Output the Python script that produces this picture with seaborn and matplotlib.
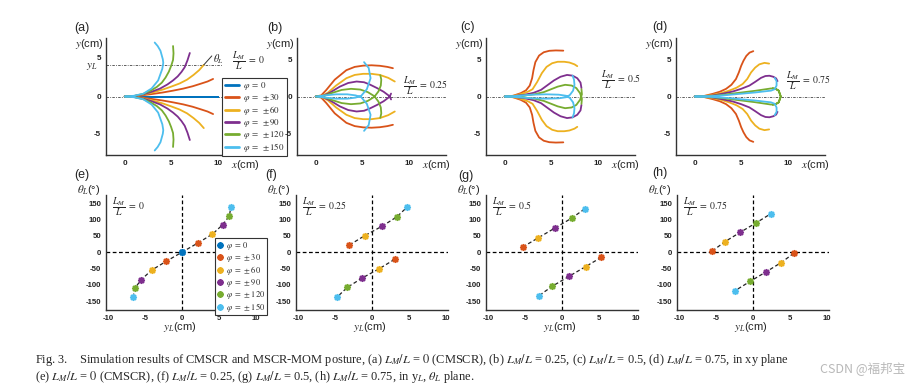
import matplotlib
matplotlib.use("Agg")
import matplotlib.pyplot as plt
import matplotlib.transforms as mtransforms
from matplotlib.lines import Line2D
import numpy as np
import seaborn as sns

# colours of the bending angles (MATLAB default order)
colors = ['#0072BD', '#D95319', '#EDB120', '#7E2F8E', '#77AC30', '#4DBEEE']
phi_labels = [r'$\varphi\;=\;0$', r'$\varphi\;=\;\pm30$', r'$\varphi\;=\;\pm60$',
              r'$\varphi\;=\;\pm90$', r'$\varphi\;=\;\pm120$', r'$\varphi\;=\;\pm150$']
ratio_labels = ['0', '0.25', '0.5', '0.75']

# ---- xy plane: upper half of each posture, the lower half is its mirror ----
# (a) L_M/L = 0, phi = 0, 30, 60, 90, 120, 150
a_x = [[0, 10],
       [0, 1.0, 2.0, 3.0, 4.1, 5.2, 6.3, 7.3, 8.1, 8.9, 9.5],
       [0, 1.0, 2.0, 3.0, 4.1, 5.0, 5.9, 6.7, 7.4, 8.0, 8.5],
       [0, 1.0, 2.0, 2.9, 3.8, 4.6, 5.2, 5.7, 6.1, 6.45, 6.75, 7.0],
       [0, 1.0, 2.0, 2.8, 3.45, 4.0, 4.4, 4.75, 5.0, 5.2, 5.25, 5.2],
       [0, 1.0, 2.0, 2.9, 3.6, 4.05, 4.15, 4.1, 3.85, 3.55, 3.23]]
a_y = [[0, 0],
       [0, 0.04, 0.18, 0.35, 0.55, 0.8, 1.08, 1.4, 1.72, 2.05, 2.4],
       [0, 0.05, 0.27, 0.55, 0.95, 1.35, 1.78, 2.3, 2.95, 3.6, 4.32],
       [0, 0.06, 0.3, 0.65, 1.08, 1.65, 2.2, 2.75, 3.35, 4.0, 4.95, 5.95],
       [0, 0.07, 0.36, 0.8, 1.3, 1.9, 2.6, 3.4, 4.2, 5.0, 5.9, 6.9],
       [0, 0.1, 0.38, 1.1, 2.2, 3.8, 4.6, 5.1, 6.25, 6.9, 7.38]]

# (b) L_M/L = 0.25, phi = 30 ... 150
b_x = [[0, 0.6, 1.15, 2.05, 3.3, 4.2, 5.1, 6.0, 6.9, 7.7, 8.3],
       [0, 0.7, 1.3, 2.2, 3.3, 4.2, 5.1, 6.0, 6.9, 7.8, 8.5],
       [0, 0.8, 1.5, 2.6, 3.5, 4.4, 5.2, 5.8, 6.6, 7.3, 7.95, 8.1],
       [0, 0.9, 1.8, 2.8, 3.8, 4.8, 5.6, 6.3, 6.75, 7.0, 7.05, 6.95],
       [0, 1.0, 2.2, 3.4, 4.3, 4.9, 5.5, 5.9, 5.7, 5.2]]
b_y = [[0, 0.15, 0.9, 2.3, 3.6, 4.05, 4.22, 4.27, 4.2, 4.05, 3.87],
       [0, 0.12, 0.5, 1.5, 2.5, 2.95, 3.1, 3.1, 2.95, 2.55, 2.05],
       [0, 0.1, 0.5, 1.35, 1.85, 2.05, 1.95, 1.65, 1.15, 0.65, 0.03, -0.4],
       [0, 0.1, 0.5, 0.9, 1.05, 0.95, 0.6, 0.05, -0.7, -1.5, -2.3, -2.9],
       [0, -0.15, -0.3, -0.3, -0.15, 0.1, 1.0, 2.5, 3.9, 4.7]]

# (c) L_M/L = 0.5
c_x = [[0, 0.9, 1.72, 2.3, 2.7, 2.95, 3.1, 3.3, 3.7, 4.2, 4.8, 5.5, 6.3],
       [0, 0.9, 1.72, 2.5, 3.0, 3.5, 4.0, 4.5, 5.1, 5.7, 6.4, 6.95, 7.5, 7.8],
       [0, 1.0, 2.1, 3.1, 3.9, 4.6, 5.3, 6.0, 6.7, 7.3, 7.8, 8.15, 8.25],
       [0, 1.0, 2.1, 3.2, 4.2, 5.0, 5.7, 6.5, 7.2, 7.7, 8.1, 8.3, 8.25],
       [0, 1.5, 3.0, 4.5, 5.8, 6.6, 7.0, 7.35, 7.5, 7.45, 7.3]]
c_y = [[0, 0.1, 0.45, 0.85, 1.5, 2.5, 3.6, 4.7, 5.6, 6.05, 6.25, 6.3, 6.27],
       [0, 0.08, 0.32, 0.65, 1.0, 2.0, 3.2, 4.05, 4.55, 4.75, 4.75, 4.65, 4.4, 4.15],
       [0, 0.07, 0.23, 0.5, 0.9, 1.55, 2.2, 2.7, 2.95, 2.85, 2.5, 1.9, 1.15],
       [0, 0.05, 0.14, 0.3, 0.6, 1.0, 1.35, 1.6, 1.5, 1.15, 0.45, -0.3, -1.0],
       [0, -0.1, -0.25, -0.3, -0.25, -0.1, 0.2, 0.8, 1.6, 2.3, 2.85]]

# (d) L_M/L = 0.75
d_x = [[0, 1.0, 1.94, 2.7, 3.37, 3.95, 4.44, 4.75, 5.0, 5.25, 5.55, 5.9, 6.3],
       [0, 1.0, 1.94, 2.9, 3.73, 4.5, 5.16, 5.65, 6.06, 6.5, 6.95, 7.5, 8.0],
       [0, 1.0, 1.94, 3.0, 4.09, 5.0, 5.88, 6.5, 7.13, 7.6, 8.03, 8.45, 8.75, 8.9],
       [0, 1.0, 1.94, 3.0, 4.4, 5.5, 6.5, 7.4, 8.2, 8.7, 9.03, 9.25, 9.03, 8.7, 8.39],
       [0, 1.0, 2.0, 3.5, 5.0, 6.5, 7.5, 8.2, 8.6, 8.8, 8.8, 8.6]]
d_y = [[0, 0.07, 0.36, 0.65, 1.04, 1.6, 2.39, 3.3, 4.2, 4.9, 5.55, 6.0, 6.2],
       [0, 0.05, 0.23, 0.48, 0.81, 1.2, 1.71, 2.4, 3.29, 3.95, 4.4, 4.6, 4.5],
       [0, 0.04, 0.14, 0.38, 0.68, 1.05, 1.49, 2.0, 2.55, 2.8, 2.84, 2.7, 2.48, 2.1],
       [0, 0.03, 0.09, 0.22, 0.45, 0.62, 0.78, 0.95, 1.1, 1.05, 0.81, 0.0, -0.77, -1.05, -1.13],
       [0, 0.02, 0.07, 0.2, 0.38, 0.55, 0.7, 0.8, 1.0, 1.5, 2.1, 2.55]]

# ---- yL-thetaL plane: upper branch, lower branch is (-yL, -thetaL) ----
e_yl = [0, 2.1, 4.1, 5.5, 6.4, 6.6]          # phi = 0 ... 150
e_th = [0, 27.5, 55, 84, 111, 138]
f_yl = [-3.05, -0.95, 1.4, 3.35, 4.7]          # phi = 30 ... 150
f_th = [22, 51, 80, 108, 137]
g_yl = [-5.3, -3.2, -0.95, 1.3, 3.1]
g_th = [16, 44, 74, 104, 133]
h_yl = [-5.5, -3.8, -1.75, 0.4, 2.4]
h_th = [3.5, 32, 60.5, 89.5, 117.5]

sns.set_style("white")
plt.rcParams['font.family'] = ['Liberation Sans', 'DejaVu Sans']
plt.rcParams['mathtext.fontset'] = 'stix'

W, H = 909, 386
fig = plt.figure(figsize=(W / 100, H / 100), dpi=100)


def px_axes(left, top, w, h):
    return fig.add_axes([left / W, 1 - (top + h) / H, w / W, h / H])


def style_axes(ax, fs=5.8):
    sns.despine(ax=ax)
    for s in ['left', 'bottom']:
        ax.spines[s].set_color('#333333')
        ax.spines[s].set_linewidth(1.0)
    ax.tick_params(direction='in', length=2, width=0.6, labelsize=fs, pad=3.5,
                   colors='#222222')
    for lab in ax.get_xticklabels() + ax.get_yticklabels():
        lab.set_fontweight('bold')
    ax.set_xlabel('')
    ax.set_ylabel('')


def ratio_text(ratio):
    return r'$\dfrac{L_M}{L}\;=\;' + ratio + '$'


def draw_xy(ax, xs, ys, cols, ratio, text_xy):
    ax.axhline(0, color='#444444', lw=0.6, ls=(0, (3, 1.5, 1, 1.5)), zorder=1)
    for x, y, c in zip(xs, ys, cols):
        x = np.array(x, dtype=float)
        y = np.array(y, dtype=float)
        fx = np.concatenate([x[::-1], x[1:]])
        fy = np.concatenate([-y[::-1], y[1:]])
        sns.lineplot(x=fx, y=fy, sort=False, estimator=None, color=c, lw=1.3,
                     ax=ax, legend=False)
    ax.set_xlim(-2, 14)
    ax.set_ylim(-8, 8)
    ax.set_xticks([0, 5, 10])
    ax.set_yticks([-5, 0, 5])
    ax.set_xticklabels(['0', '5', '10'])
    ax.set_yticklabels(['-5', '0', '5'])
    style_axes(ax)
    ax.text(text_xy[0], text_xy[1], ratio_text(ratio),
            fontsize=7, ha='left', va='center')
    ax.text(-0.015, 0.95, r'$y$(cm)', transform=ax.transAxes, fontsize=8,
            ha='right', va='center')
    ax.text(1.035, -0.085, r'$x$(cm)', transform=ax.transAxes, fontsize=8,
            ha='right', va='center')


def draw_yt(ax, yl, th, cols, ratio, with_blue):
    ax.axhline(0, color='k', lw=0.9, ls=(0, (3, 2)), zorder=1)
    ax.axvline(0, color='k', lw=0.9, ls=(0, (3, 2)), zorder=1)
    yl = np.array(yl, dtype=float)
    th = np.array(th, dtype=float)
    if with_blue:
        lx = np.concatenate([-yl[::-1], yl[1:]])
        ly = np.concatenate([-th[::-1], th[1:]])
        sns.lineplot(x=lx, y=ly, sort=False, estimator=None, color='#222222',
                     lw=0.9, ls=(0, (3, 2)), ax=ax, legend=False)
    else:
        for sgn in (1, -1):
            sns.lineplot(x=sgn * yl, y=sgn * th, sort=False, estimator=None,
                         color='#222222', lw=0.9, ls=(0, (3, 2)), ax=ax,
                         legend=False)
    for i, c in enumerate(cols):
        px = [yl[i], -yl[i]]
        py = [th[i], -th[i]]
        sns.scatterplot(x=px, y=py, color=c, marker=(8, 2, 0), s=15,
                        linewidth=1.3, ax=ax, legend=False, zorder=3)
    ax.set_xlim(-10.27, 10.27)
    ax.set_ylim(-177, 175)
    ax.set_xticks([-10, -5, 0, 5, 10])
    ax.set_yticks([-150, -100, -50, 0, 50, 100, 150])
    ax.set_xticklabels(['-10', '-5', '0', '5', '10'])
    ax.set_yticklabels(['-150', '-100', '-50', '0', '50', '100', '150'])
    style_axes(ax, 5.6)
    ax.text(0.04, 0.90, ratio_text(ratio), transform=ax.transAxes,
            fontsize=7, ha='left', va='center')
    ax.text(-0.04, 1.045, r'$\theta_L$(°)', transform=ax.transAxes, fontsize=8,
            ha='right', va='center')
    ax.text(0.487, -0.15, r'$y_L$(cm)', transform=ax.transAxes, fontsize=8,
            ha='center', va='center')


top_left = [106, 297, 486, 676]
bot_left = [106, 296, 486, 677]

ax_a = px_axes(top_left[0], 38, 149, 117)
draw_xy(ax_a, a_x, a_y, colors, ratio_labels[0], (11.5, 4.9))
ax_b = px_axes(top_left[1], 38, 149, 117)
draw_xy(ax_b, b_x, b_y, colors[1:], ratio_labels[1], (9.35, 1.46))
ax_c = px_axes(top_left[2], 38, 149, 117)
draw_xy(ax_c, c_x, c_y, colors[1:], ratio_labels[2], (10.3, 2.3))
ax_d = px_axes(top_left[3], 38, 149, 117)
draw_xy(ax_d, d_x, d_y, colors[1:], ratio_labels[3], (9.84, 2.16))

# y_L reference line and tangent angle in (a), taken from the phi = 60 posture
yl_a = a_y[2][-1]
xe_a = a_x[2][-1]
ax_a.axhline(yl_a, xmax=(10.5 + 2) / 16, color='#444444', lw=0.6,
             ls=(0, (3, 1.5, 1, 1.5)), zorder=1)
ang = np.deg2rad(e_th[2])
ax_a.plot([xe_a, xe_a + 1.5 * np.cos(ang)], [yl_a, yl_a + 1.5 * np.sin(ang)],
          color='#333333', lw=0.7)
ax_a.text(xe_a + 1.0, yl_a + 0.75, r'$\theta_L$', fontsize=7.5, ha='left',
          va='center')
ax_a.text(-0.06, yl_a - 0.25, r'$y_L$', transform=ax_a.get_yaxis_transform(),
          fontsize=8, ha='right', va='center')
lab5 = ax_a.get_yticklabels()[2]
lab5.set_transform(lab5.get_transform() +
                   mtransforms.ScaledTranslation(0, 2 / 72, fig.dpi_scale_trans))

handles = [Line2D([], [], color=c, lw=2) for c in colors]
leg = ax_a.legend(handles, phi_labels, loc='upper right',
                  bbox_to_anchor=(1.215, 0.658), fontsize=6.4, frameon=True,
                  fancybox=False, edgecolor='#333333', framealpha=1,
                  borderpad=0.25, labelspacing=0.0, handlelength=1.6,
                  handletextpad=0.5, borderaxespad=0)
leg.get_frame().set_linewidth(0.8)

ax_e = px_axes(bot_left[0], 195, 152, 115)
draw_yt(ax_e, e_yl, e_th, colors, ratio_labels[0], True)
ax_f = px_axes(bot_left[1], 195, 152, 115)
draw_yt(ax_f, f_yl, f_th, colors[1:], ratio_labels[1], False)
ax_g = px_axes(bot_left[2], 195, 152, 115)
draw_yt(ax_g, g_yl, g_th, colors[1:], ratio_labels[2], False)
ax_h = px_axes(bot_left[3], 195, 152, 115)
draw_yt(ax_h, h_yl, h_th, colors[1:], ratio_labels[3], False)

mhandles = [Line2D([], [], ls='none', color=c, marker=(8, 2, 0), markersize=4.5,
                   mew=1.4) for c in colors]
leg2 = ax_e.legend(mhandles, phi_labels, loc='upper right',
                   bbox_to_anchor=(1.06, 0.626), fontsize=6, frameon=True,
                   fancybox=False, edgecolor='#333333', framealpha=1,
                   borderpad=0.2, labelspacing=0.0, handlelength=0.8,
                   handletextpad=0.3, borderaxespad=0)
leg2.get_frame().set_linewidth(0.8)

# panel letters
panel_pos = {'(a)': (74, 28), '(b)': (267, 28), '(c)': (460, 27), '(d)': (652, 27),
             '(e)': (74, 175), '(f)': (265, 175), '(g)': (458, 176),
             '(h)': (652, 173)}
for k, (px, py) in panel_pos.items():
    fig.text(px / W, 1 - py / H, k, fontsize=9, ha='left', va='center')

# caption
cap1 = ('Fig. 3.    Simulation results of CMSCR and MSCR-MOM posture, '
        '(a) $L_M/L$ = $0$ (CMSCR), (b) $L_M/L$ = 0.25, (c) $L_M/L$ = 0.5, '
        '(d) $L_M/L$ = 0.75, in xy plane')
cap2 = ('(e) $L_M/L$ = $0$ (CMSCR), (f) $L_M/L$ = 0.25, (g) $L_M/L$ = 0.5, '
        '(h) $L_M/L$ = 0.75, in y$_L$, $\\theta_L$ plane.')
fig.text(35 / W, 1 - 360 / H, cap1, fontsize=8.9, family='Liberation Serif',
         ha='left', va='center')
fig.text(35 / W, 1 - 377 / H, cap2, fontsize=8.9, family='Liberation Serif',
         ha='left', va='center')
fig.text(905 / W, 1 - 368 / H, 'CSDN @福邦宝', fontsize=9, color='#b8b8b8',
         family=['Noto Sans CJK SC', 'DejaVu Sans'], ha='right', va='center')

fig.savefig('out.png', dpi=100)
